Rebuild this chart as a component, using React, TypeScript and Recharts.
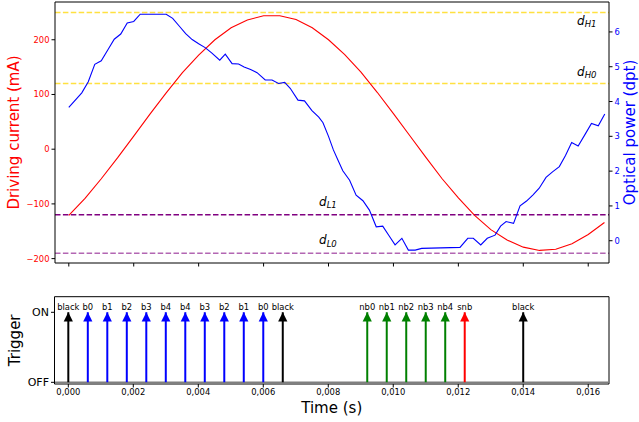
import React from 'react';
import { ComposedChart, Line, Scatter, XAxis, YAxis, ReferenceLine, LabelList, Label } from 'recharts';

// ---------- data ----------
const timeTicks = [0, 0.002, 0.004, 0.006, 0.008, 0.01, 0.012, 0.014, 0.016];
const currentTicks = [-200, -100, 0, 100, 200];
const powerTicks = [0, 1, 2, 3, 4, 5, 6];

const redTime = [0, 0.0005, 0.001, 0.0015, 0.002, 0.0025, 0.003, 0.0035, 0.004, 0.0045, 0.005, 0.0055, 0.006, 0.0065, 0.007, 0.0075, 0.008, 0.0085, 0.009, 0.0095, 0.01, 0.0105, 0.011, 0.0115, 0.012, 0.0125, 0.013, 0.0135, 0.014, 0.0145, 0.015, 0.0155, 0.016, 0.0165];
const redCurrent = [-121, -90, -54, -16, 24, 64, 103, 140, 172, 200, 222, 236, 244, 244, 237, 222, 200, 173, 141, 104, 65, 25, -15, -54, -89, -121, -147, -166, -179, -185, -183, -173, -156, -134];

const blueTime = [0, 0.0004, 0.0006, 0.0008, 0.001, 0.0012, 0.0014, 0.0016, 0.0018, 0.002, 0.0022, 0.003, 0.0032, 0.0034, 0.0036, 0.0038, 0.004, 0.0042, 0.0044, 0.00465, 0.00482, 0.00503, 0.00523, 0.0054, 0.0056, 0.0058, 0.00605, 0.00626, 0.00646, 0.00665, 0.00682, 0.00706, 0.00726, 0.00749, 0.0077, 0.00783, 0.008, 0.00815, 0.0083, 0.00844, 0.00865, 0.00885, 0.00906, 0.00926, 0.00947, 0.00967, 0.00986, 0.01005, 0.01026, 0.01046, 0.01067, 0.01087, 0.01205, 0.01229, 0.01246, 0.01269, 0.01289, 0.01313, 0.0133, 0.01347, 0.0137, 0.0139, 0.0141, 0.0143, 0.01449, 0.0147, 0.0149, 0.01511, 0.0153, 0.01549, 0.01569, 0.01593, 0.0161, 0.01631, 0.01651];
const bluePower = [3.83, 4.25, 4.57, 5.07, 5.17, 5.48, 5.79, 5.94, 6.26, 6.3, 6.51, 6.51, 6.39, 6.17, 5.95, 5.78, 5.66, 5.55, 5.4, 5.19, 5.36, 5.09, 5.08, 4.99, 4.92, 4.83, 4.62, 4.62, 4.52, 4.55, 4.38, 4.04, 4.02, 3.74, 3.55, 3.39, 3.0, 2.61, 2.3, 2.01, 1.74, 1.31, 1.15, 0.88, 0.4, 0.42, 0.15, -0.12, 0.07, -0.27, -0.27, -0.22, -0.19, 0.07, 0.07, -0.12, 0.07, 0.16, 0.42, 0.55, 0.5, 1.0, 1.14, 1.32, 1.51, 1.82, 1.98, 2.13, 2.45, 2.82, 2.72, 3.1, 3.37, 3.3, 3.64];

// threshold levels (mA)
const levelValues = [250, 120, -120, -190];
const levelNames = ['H1', 'H0', 'L1', 'L0'];

// triggers
const blackTimes = [0, 0.0066, 0.014];
const blackLabels = ['black', 'black', 'black'];
const blueTimes = [0.0006, 0.0012, 0.0018, 0.0024, 0.003, 0.0036, 0.0042, 0.0048, 0.0054, 0.006];
const blueLabels = ['b0', 'b1', 'b2', 'b3', 'b4', 'b4', 'b3', 'b2', 'b1', 'b0'];
const greenTimes = [0.0092, 0.0098, 0.0104, 0.011, 0.0116];
const greenLabels = ['nb0', 'nb1', 'nb2', 'nb3', 'nb4'];
const redTimes = [0.0122];
const redLabels = ['snb'];

// ---------- layout / style ----------
const FONT = "'DejaVu Sans', sans-serif";
const X_DOMAIN: [number, number] = [-0.000425, 0.01664];
const I_DOMAIN: [number, number] = [-208, 269];
const P_DOMAIN: [number, number] = [-0.64, 6.86];
const T_DOMAIN: [number, number] = [-0.024, 1.223];

const redData = redTime.map((t, i) => ({ t, v: redCurrent[i] }));
const blueData = blueTime.map((t, i) => ({ t, v: bluePower[i] }));

const stemData = (times: number[]) => {
  const out: { t: number; v: number | null }[] = [];
  times.forEach((t) => {
    out.push({ t, v: 0 });
    out.push({ t, v: 1 });
    out.push({ t, v: null });
  });
  return out;
};
const headData = (times: number[], labels: string[]) => times.map((t, i) => ({ t, v: 1, label: labels[i] }));

const levelStyles = [
  { stroke: '#FFD700', opacity: 0.75, x: 577, dy: 12.3 },
  { stroke: '#FFD700', opacity: 0.75, x: 577, dy: -7.7 },
  { stroke: '#800080', opacity: 1, x: 319, dy: -9.3 },
  { stroke: '#800080', opacity: 0.6, x: 319, dy: -8.7 },
];

const mathLabel = (sub: string, x: number, dy: number) => (props: any) => {
  const vb = props.viewBox || {};
  return (
    <text x={x} y={(vb.y || 0) + dy} fontFamily={FONT} fill="#000">
      <tspan fontSize={12} fontStyle="italic">d</tspan>
      <tspan fontSize={8.5} fontStyle="italic" dy={2.5}>{sub}</tspan>
    </text>
  );
};

const arrowShape = (color: string) => (p: any) => (
  <polygon points={`${p.cx},${p.cy} ${p.cx - 4.6},${p.cy + 9.3} ${p.cx + 4.6},${p.cy + 9.3}`} fill={color} />
);

const stemGroups = [
  { times: blackTimes, labels: blackLabels, color: '#000000' },
  { times: blueTimes, labels: blueLabels, color: '#0000ff' },
  { times: greenTimes, labels: greenLabels, color: '#008000' },
  { times: redTimes, labels: redLabels, color: '#ff0000' },
];

const fmtTime = (v: number) => v.toFixed(3).replace('.', ',');
const fmtNum = (v: number) => (v < 0 ? '\u2212' + Math.abs(v) : String(v));

export default function App() {
  return (
    <div style={{ position: 'absolute', left: 0, top: 0, width: 639, height: 422, background: '#fff' }}>
      <div style={{ position: 'absolute', left: 0, top: 0 }}>
        <ComposedChart width={639} height={270} margin={{ top: 2, right: 0, bottom: 0, left: 0 }}>
          <XAxis
            dataKey="t"
            type="number"
            domain={X_DOMAIN}
            ticks={timeTicks}
            allowDataOverflow
            height={7}
            tickSize={3.5}
            tickFormatter={() => ''}
            axisLine={{ stroke: '#000' }}
            tickLine={{ stroke: '#000' }}
          />
          <YAxis
            yAxisId="l"
            type="number"
            domain={I_DOMAIN}
            ticks={currentTicks}
            allowDataOverflow
            width={55}
            tickSize={3.5}
            tickMargin={2}
            tickFormatter={fmtNum}
            tick={{ fill: '#ff0000', fontSize: 8.4, fontFamily: FONT }}
            axisLine={{ stroke: '#000' }}
            tickLine={{ stroke: '#000' }}
          >
            <Label
              value="Driving current (mA)"
              angle={-90}
              position="insideLeft"
              offset={14}
              style={{ textAnchor: 'middle', fontSize: 15, fontFamily: FONT, fill: '#ff0000' }}
            />
          </YAxis>
          <YAxis
            yAxisId="r"
            orientation="right"
            type="number"
            domain={P_DOMAIN}
            ticks={powerTicks}
            allowDataOverflow
            width={30}
            tickSize={3.5}
            tickMargin={2}
            tick={{ fill: '#0000ff', fontSize: 8.4, fontFamily: FONT }}
            axisLine={{ stroke: '#000' }}
            tickLine={{ stroke: '#000' }}
          >
            <Label
              value="Optical power (dpt)"
              angle={-90}
              position="insideRight"
              offset={9.5}
              style={{ textAnchor: 'middle', fontSize: 15, fontFamily: FONT, fill: '#0000ff' }}
            />
          </YAxis>
          <ReferenceLine yAxisId="l" y={I_DOMAIN[1]} stroke="#000" strokeWidth={1} />
          {levelValues.map((lv, i) => (
            <ReferenceLine
              key={'lv' + i}
              yAxisId="l"
              y={lv}
              stroke={levelStyles[i].stroke}
              strokeOpacity={levelStyles[i].opacity}
              strokeWidth={1.5}
              strokeDasharray="5.5 2.4"
              label={mathLabel(levelNames[i], levelStyles[i].x, levelStyles[i].dy)}
            />
          ))}
          <Line
            yAxisId="l"
            data={redData}
            dataKey="v"
            type="linear"
            stroke="#ff0000"
            strokeWidth={1.1}
            dot={false}
            isAnimationActive={false}
          />
          <Line
            yAxisId="r"
            data={blueData}
            dataKey="v"
            type="linear"
            stroke="#0000ff"
            strokeWidth={1.1}
            dot={false}
            isAnimationActive={false}
          />
        </ComposedChart>
      </div>
      <div style={{ position: 'absolute', left: 0, top: 280 }}>
        <ComposedChart width={639} height={142} margin={{ top: 16.7, right: 30, bottom: 0, left: 0 }}>
          <XAxis
            dataKey="t"
            type="number"
            domain={X_DOMAIN}
            ticks={timeTicks}
            allowDataOverflow
            height={38}
            tickSize={3.5}
            tickMargin={2}
            tickFormatter={fmtTime}
            tick={{ fill: '#000', fontSize: 8.4, fontFamily: FONT }}
            axisLine={{ stroke: '#000' }}
            tickLine={{ stroke: '#000' }}
          >
            <Label
              value="Time (s)"
              position="insideBottom"
              offset={9}
              style={{ fontSize: 15, fontFamily: FONT, fill: '#000' }}
            />
          </XAxis>
          <YAxis
            type="number"
            domain={T_DOMAIN}
            ticks={[0, 1]}
            allowDataOverflow
            width={54.5}
            tickSize={3.5}
            tickMargin={2}
            tickFormatter={(v: number) => (v === 1 ? 'ON' : 'OFF')}
            tick={{ fill: '#000', fontSize: 11, fontFamily: FONT }}
            axisLine={{ stroke: '#000' }}
            tickLine={{ stroke: '#000' }}
          >
            <Label
              value="Trigger"
              angle={-90}
              position="insideLeft"
              offset={15}
              style={{ textAnchor: 'middle', fontSize: 15, fontFamily: FONT, fill: '#000' }}
            />
          </YAxis>
          <ReferenceLine y={T_DOMAIN[1]} stroke="#000" strokeWidth={1} />
          <ReferenceLine x={X_DOMAIN[1]} stroke="#000" strokeWidth={1} />
          <ReferenceLine y={0} stroke="#7f7f7f" strokeWidth={1.5} />
          {stemGroups.map((g, i) => (
            <Line
              key={'stem' + i}
              data={stemData(g.times)}
              dataKey="v"
              type="linear"
              stroke={g.color}
              strokeWidth={2}
              dot={false}
              connectNulls={false}
              isAnimationActive={false}
            />
          ))}
          {stemGroups.map((g, i) => (
            <Scatter
              key={'head' + i}
              data={headData(g.times, g.labels)}
              dataKey="v"
              shape={arrowShape(g.color)}
              isAnimationActive={false}
            >
              <LabelList
                dataKey="label"
                position="top"
                offset={-2}
                style={{ fontSize: 8.4, fontFamily: FONT, fill: '#000' }}
              />
            </Scatter>
          ))}
        </ComposedChart>
      </div>
    </div>
  );
}
